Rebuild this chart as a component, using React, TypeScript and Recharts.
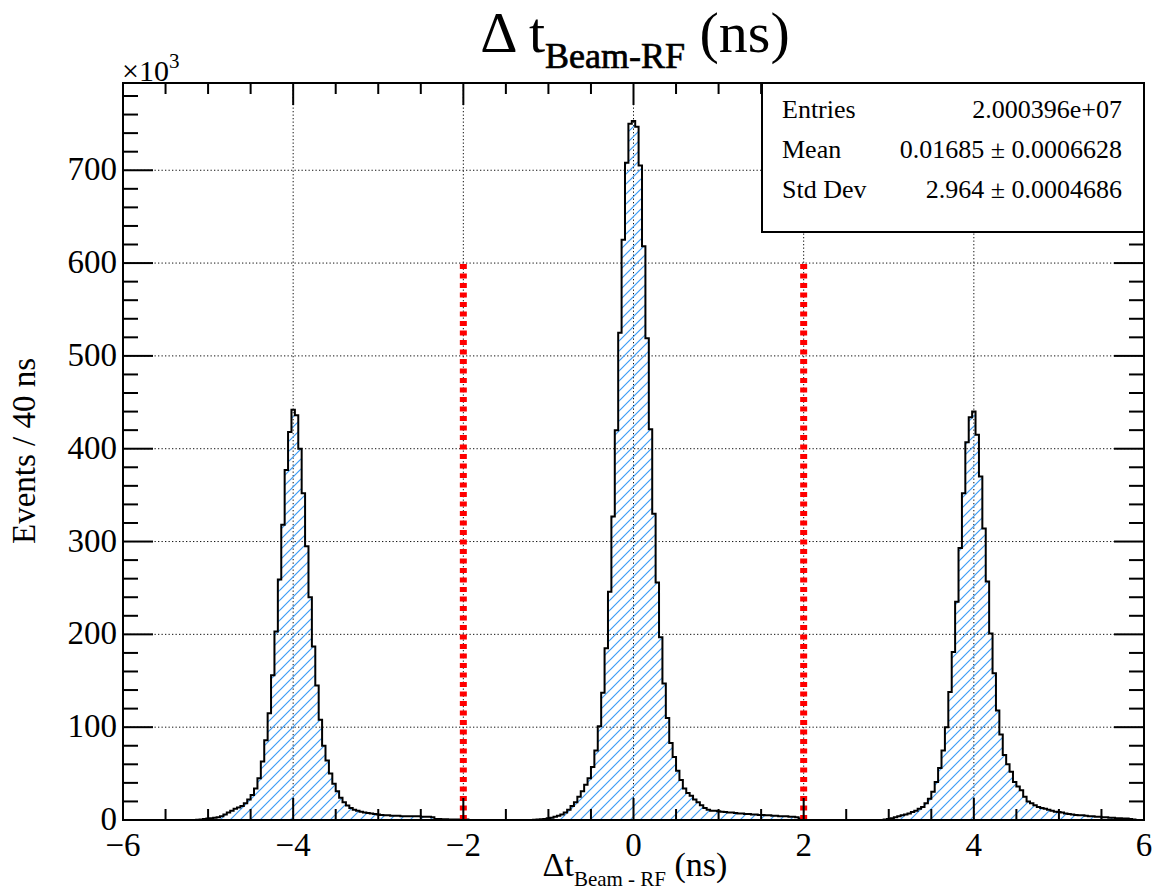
import { AreaChart, Area, XAxis, YAxis, CartesianGrid, ReferenceLine } from "recharts";

// histogram binning (ns) and axis ranges
const BIN_WIDTH = 0.04;
const X_MIN = -6;
const X_MAX = 6;
const Y_MAX = 794; // x10^3 events

// bin contents in thousands, bin centres start at the given value
const leftPeakStart = -5.12;
const leftPeakCounts = [
  0.3, 0.6, 1, 1.5, 2, 2.5, 3, 4, 6, 8,
  10, 12, 13.5, 15, 18, 22, 27, 34, 45, 63,
  86, 115, 156, 203, 259, 318, 377, 418, 442, 436,
  400, 352, 295, 240, 187, 145, 108, 80, 64, 50,
  39, 31, 24, 19, 15.5, 13, 11, 10, 9, 8,
  7.5, 7, 6.5, 6, 5.5, 5, 5, 4.5, 4.5, 4.5,
  4, 4, 4, 4, 4, 4, 3.5, 3.5, 3.5, 3,
  1, 1, 0.8, 0.8, 0.6, 0.6, 0.5, 0.5, 0.5, 0.5,
];

const centralPeakStart = -1.16;
const centralPeakCounts = [
  0.3, 0.5, 0.8, 1.2, 2, 2.5, 3.5, 4.5, 6, 8,
  11, 15, 19, 25, 31, 38, 45, 57, 75, 101,
  137, 185, 246, 327, 420, 525, 625, 708, 750, 753,
  747, 705, 618, 519, 421, 330, 256, 197, 147, 110,
  83, 68, 53, 43, 34, 29, 26, 22, 19, 16,
  13, 11, 10, 10, 9.5, 9, 8.5, 8, 8, 7.5,
  7, 7, 6.5, 6.5, 6, 6, 5.5, 5.5, 5, 5,
  4.5, 4.5, 4, 4, 4, 3.5, 3.5, 3, 1.5, 0.5,
];

const rightPeakStart = 2.96;
const rightPeakCounts = [
  0.5, 1, 2, 3, 4, 5, 6, 7, 8.5, 10,
  12, 14, 18, 23, 30.5, 41, 56, 75, 100, 138,
  181, 235, 293, 352, 407, 434, 440, 415, 370, 314,
  257, 201, 158, 118, 92, 70, 60, 52, 41, 36,
  32, 25, 20, 18, 16, 14, 13, 12, 11, 10,
  9, 8.5, 8, 7, 6.5, 6, 5.5, 5, 5, 4.5,
  4, 4, 3.5, 3.5, 3, 3, 2.5, 2.5, 2, 2,
  1.5, 1.5, 1, 0.5,
];

// bunch selection cuts
const cutLow = -2;
const cutHigh = 2;
const cutHeight = 600;

const xTicks = [-6, -5.5, -5, -4.5, -4, -3.5, -3, -2.5, -2, -1.5, -1, -0.5, 0, 0.5, 1, 1.5, 2, 2.5, 3, 3.5, 4, 4.5, 5, 5.5, 6];
const xGrid = [-4, -2, 0, 2, 4];
const yTicks = Array.from({ length: 40 }, (_, i) => i * 20);
const yGrid = [100, 200, 300, 400, 500, 600, 700];

const statsRows = [
  ["Entries", "2.000396e+07"],
  ["Mean", "0.01685 \u00b1 0.0006628"],
  ["Std Dev", "2.964 \u00b1 0.0004686"],
];

// layout
const W = 1157;
const H = 893;
const PLOT_LEFT = 123;
const PLOT_RIGHT = 1144;
const PLOT_TOP = 83;
const PLOT_BOTTOM = 820;
const FONT = "'Liberation Serif', 'DejaVu Serif', serif";

const nBins = Math.round((X_MAX - X_MIN) / BIN_WIDTH) + 1;
const binCounts: number[] = new Array(nBins).fill(0);
[
  [leftPeakStart, leftPeakCounts],
  [centralPeakStart, centralPeakCounts],
  [rightPeakStart, rightPeakCounts],
].forEach(([start, values]) => {
  const first = Math.round(((start as number) - X_MIN) / BIN_WIDTH);
  (values as number[]).forEach((v, i) => {
    binCounts[first + i] = v;
  });
});

const data = binCounts.map((c, i) => ({
  x: +Math.max(X_MIN, X_MIN + i * BIN_WIDTH - BIN_WIDTH / 2).toFixed(4),
  y: c,
}));
data.push({ x: X_MAX, y: binCounts[nBins - 1] });

const isMajorX = (v: number) => Math.abs(v / 2 - Math.round(v / 2)) < 1e-6;

const renderXTick = (props: any) => {
  const { x, payload } = props;
  const v = payload.value;
  const major = isMajorX(v);
  const len = major ? 22 : 11;
  return (
    <g>
      <line x1={x} x2={x} y1={PLOT_BOTTOM} y2={PLOT_BOTTOM - len} stroke="#000" strokeWidth={2} />
      <line x1={x} x2={x} y1={PLOT_TOP} y2={PLOT_TOP + len} stroke="#000" strokeWidth={2} />
      {major && (
        <text x={x} y={856} textAnchor="middle" fontSize={33} fontFamily={FONT} fill="#000">
          {v < 0 ? "\u2212" + Math.abs(v) : v}
        </text>
      )}
    </g>
  );
};

const renderYTick = (props: any) => {
  const { y, payload } = props;
  const v = payload.value;
  const major = v % 100 === 0;
  const len = major ? 30 : 15;
  return (
    <g>
      <line x1={PLOT_LEFT} x2={PLOT_LEFT + len} y1={y} y2={y} stroke="#000" strokeWidth={2} />
      <line x1={PLOT_RIGHT} x2={PLOT_RIGHT - len} y1={y} y2={y} stroke="#000" strokeWidth={2} />
      {major && (
        <text x={117} y={y + 10} textAnchor="end" fontSize={33} fontFamily={FONT} fill="#000">
          {v}
        </text>
      )}
    </g>
  );
};

export default function App() {
  return (
    <div style={{ position: "absolute", left: 0, top: 0, width: W, height: H, background: "#fff" }}>
      <AreaChart
        width={W}
        height={H}
        data={data}
        margin={{ top: PLOT_TOP, right: W - PLOT_RIGHT, left: PLOT_LEFT - 60, bottom: H - PLOT_BOTTOM - 40 }}
      >
        <defs>
          <pattern id="hatch" patternUnits="userSpaceOnUse" width={10} height={10}>
            <path d="M-2,2 L2,-2 M0,10 L10,0 M8,12 L12,8" stroke="#3d9cf5" strokeWidth={1.2} />
          </pattern>
        </defs>
        <CartesianGrid
          stroke="#111"
          strokeDasharray="1.3 2.2"
          strokeWidth={1}
          horizontalValues={yGrid}
          verticalValues={xGrid}
        />
        <XAxis
          type="number"
          dataKey="x"
          domain={[X_MIN, X_MAX]}
          ticks={xTicks}
          interval={0}
          tick={renderXTick}
          tickLine={false}
          axisLine={false}
          height={40}
          allowDataOverflow
        />
        <YAxis
          type="number"
          domain={[0, Y_MAX]}
          ticks={yTicks}
          interval={0}
          tick={renderYTick}
          tickLine={false}
          axisLine={false}
          width={60}
          allowDataOverflow
        />
        <Area
          type="stepAfter"
          dataKey="y"
          stroke="#000"
          strokeWidth={2}
          fill="url(#hatch)"
          fillOpacity={1}
          isAnimationActive={false}
          dot={false}
          activeDot={false}
        />
        <ReferenceLine
          segment={[{ x: cutLow, y: 0 }, { x: cutLow, y: cutHeight }]}
          stroke="#ff0000"
          strokeWidth={7}
          strokeDasharray="5 4.5"
        />
        <ReferenceLine
          segment={[{ x: cutHigh, y: 0 }, { x: cutHigh, y: cutHeight }]}
          stroke="#ff0000"
          strokeWidth={7}
          strokeDasharray="5 4.5"
        />
      </AreaChart>
      <svg
        width={W}
        height={H}
        style={{ position: "absolute", left: 0, top: 0, pointerEvents: "none" }}
      >
        <rect
          x={PLOT_LEFT}
          y={PLOT_TOP}
          width={PLOT_RIGHT - PLOT_LEFT}
          height={PLOT_BOTTOM - PLOT_TOP}
          fill="none"
          stroke="#000"
          strokeWidth={2}
        />
        <text x={635} y={52} textAnchor="middle" fill="#000" fontFamily={FONT}>
          <tspan fontSize={58}>{"\u0394 t"}</tspan>
          <tspan fontSize={36} dy={16} stroke="#000" strokeWidth={0.7}>Beam-RF</tspan>
          <tspan fontSize={58} dy={-16}>{" (ns)"}</tspan>
        </text>
        <text x={122} y={81} fontSize={30} fill="#000" fontFamily={FONT}>
          {"\u00d710"}
          <tspan fontSize={21} dy={-13}>3</tspan>
        </text>
        <text x={635} y={876} textAnchor="middle" fill="#000" fontFamily={FONT}>
          <tspan fontSize={34}>{"\u0394t"}</tspan>
          <tspan fontSize={21} dy={10}>Beam - RF</tspan>
          <tspan fontSize={34} dy={-10}>{" (ns)"}</tspan>
        </text>
        <text
          x={-451}
          y={35}
          transform="rotate(-90)"
          textAnchor="middle"
          fontSize={33}
          fill="#000"
          fontFamily={FONT}
        >
          Events / 40 ns
        </text>
        <rect x={762} y={PLOT_TOP} width={PLOT_RIGHT - 762} height={149} fill="#fff" stroke="#000" strokeWidth={2} />
        {statsRows.map(([label, value], i) => (
          <g key={label}>
            <text x={782} y={118 + i * 40} fontSize={26} fill="#000" fontFamily={FONT}>
              {label}
            </text>
            <text x={1122} y={118 + i * 40} fontSize={26} textAnchor="end" fill="#000" fontFamily={FONT}>
              {value}
            </text>
          </g>
        ))}
      </svg>
    </div>
  );
}
